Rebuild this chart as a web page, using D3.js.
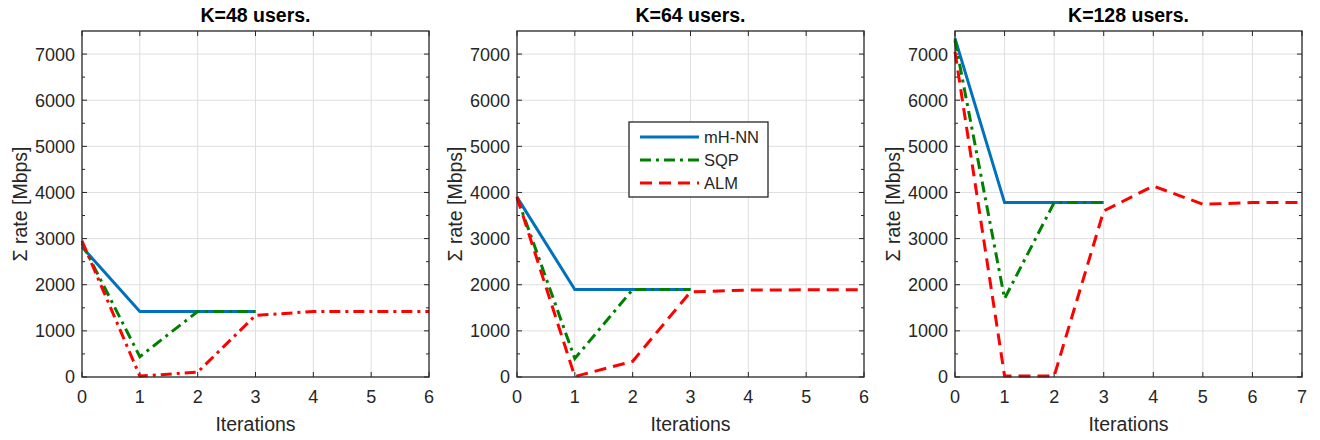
<!DOCTYPE html>
<html>
<head>
<meta charset="utf-8">
<script src="https://cdn.jsdelivr.net/npm/d3@7"></script>
<style>
  html, body { margin: 0; padding: 0; background: #fff; }
  svg { display: block; font-family: "Liberation Sans", Arial, Helvetica, sans-serif; }
</style>
</head>
<body>
<svg id="chart" width="1320" height="440"></svg>
<script>
// Sum-rate convergence per iteration for three user counts
const titles = ["K=48 users.", "K=64 users.", "K=128 users."];
const xMaxes = [6, 6, 7];
const seriesNames = ["mH-NN", "SQP", "ALM"];
const yTicks = [0, 1000, 2000, 3000, 4000, 5000, 6000, 7000];
const yMax = 7500;

const mhnn48 = [2820, 1420, 1420, 1420];
const sqp48 = [2900, 440, 1420, 1420];
const alm48 = [2950, 20, 105, 1335, 1420, 1420, 1420];

const mhnn64 = [3900, 1895, 1895, 1895];
const sqp64 = [3900, 400, 1895, 1895];
const alm64 = [3900, 10, 340, 1845, 1885, 1890, 1890];

const mhnn128 = [7340, 3780, 3780, 3780];
const sqp128 = [7300, 1700, 3780, 3780];
const alm128 = [7050, 20, 20, 3600, 4140, 3745, 3780, 3780];

const panelSeries = [
  [mhnn48, sqp48, alm48],
  [mhnn64, sqp64, alm64],
  [mhnn128, sqp128, alm128]
];

const colors = ["#0072BD", "#008000", "#FF0000"];
const dashDot = "11,5,3,5";
const dashed = "12,7";
// ALM is drawn dash-dot in the first panel, dashed in the others
const dashes = [
  [null, dashDot, dashDot],
  [null, dashDot, dashed],
  [null, dashDot, dashed]
];

const axisColor = "#262626";
const gridColor = "#dfdfdf";
const lefts = [82, 517, 955];
const plotW = 347;
const plotTop = 31, plotBottom = 377;

const svg = d3.select("#chart");

titles.forEach((title, p) => {
  const x0 = lefts[p];
  const x = d3.scaleLinear().domain([0, xMaxes[p]]).range([x0, x0 + plotW]);
  const y = d3.scaleLinear().domain([0, yMax]).range([plotBottom, plotTop]);
  const g = svg.append("g");
  const xTicks = d3.range(0, xMaxes[p] + 1);
  const yMinor = d3.range(500, yMax, 1000);

  // grid
  g.append("g").selectAll("line").data(xTicks.slice(1, -1)).join("line")
    .attr("x1", d => x(d)).attr("x2", d => x(d)).attr("y1", plotTop).attr("y2", plotBottom)
    .attr("stroke", gridColor).attr("stroke-width", 1);
  g.append("g").selectAll("line").data(yTicks.slice(1)).join("line")
    .attr("x1", x0).attr("x2", x0 + plotW).attr("y1", d => y(d)).attr("y2", d => y(d))
    .attr("stroke", gridColor).attr("stroke-width", 1);

  // axes with inward ticks on all four sides
  const tickLen = 5;
  const ax = g.append("g").attr("stroke", axisColor).attr("stroke-width", 1);
  ax.selectAll(".xt").data(xTicks).join("path").attr("class", "xt")
    .attr("d", d => `M${x(d)},${plotBottom}v${-tickLen}M${x(d)},${plotTop}v${tickLen}`);
  ax.selectAll(".yt").data(yTicks).join("path").attr("class", "yt")
    .attr("d", d => `M${x0},${y(d)}h${tickLen}M${x0 + plotW},${y(d)}h${-tickLen}`);
  ax.selectAll(".ym").data(yMinor).join("path").attr("class", "ym")
    .attr("d", d => `M${x0},${y(d)}h3M${x0 + plotW},${y(d)}h-3`);

  // series
  const line = d3.line().x((d, i) => x(i)).y(d => y(d));
  panelSeries[p].forEach((vals, s) => {
    g.append("path").datum(vals)
      .attr("d", line)
      .attr("fill", "none")
      .attr("stroke", colors[s])
      .attr("stroke-width", 3)
      .attr("stroke-dasharray", dashes[p][s])
      .attr("stroke-linejoin", "miter");
  });

  // box
  g.append("rect").attr("x", x0).attr("y", plotTop).attr("width", plotW).attr("height", plotBottom - plotTop)
    .attr("fill", "none").attr("stroke", axisColor).attr("stroke-width", 1.3);

  // tick labels
  g.append("g").selectAll("text").data(xTicks).join("text")
    .attr("x", d => x(d)).attr("y", plotBottom + 26)
    .attr("text-anchor", "middle").attr("font-size", 18).attr("fill", axisColor)
    .text(d => d);
  g.append("g").selectAll("text").data(yTicks).join("text")
    .attr("x", x0 - 7).attr("y", d => y(d)).attr("dy", "0.36em")
    .attr("text-anchor", "end").attr("font-size", 18).attr("fill", axisColor)
    .text(d => d);

  // axis labels and title
  g.append("text").attr("x", x0 + plotW / 2).attr("y", 431)
    .attr("text-anchor", "middle").attr("font-size", 19.5).attr("fill", axisColor)
    .text("Iterations");
  g.append("text")
    .attr("transform", `translate(${x0 - 55},${(plotTop + plotBottom) / 2}) rotate(-90)`)
    .attr("text-anchor", "middle").attr("font-size", 19.5).attr("fill", axisColor)
    .text("\u03A3 rate [Mbps]");
  g.append("text").attr("x", x0 + plotW / 2).attr("y", 22)
    .attr("text-anchor", "middle").attr("font-size", 19.5).attr("font-weight", "bold")
    .attr("fill", "#000").text(title);

  // legend in the middle panel
  if (p === 1) {
    const lx = 629, ly = 122, lw = 139, lh = 75;
    const lg = g.append("g");
    lg.append("rect").attr("x", lx).attr("y", ly).attr("width", lw).attr("height", lh)
      .attr("fill", "#fff").attr("stroke", axisColor).attr("stroke-width", 1.3);
    seriesNames.forEach((name, s) => {
      const ry = ly + 15 + s * 23;
      lg.append("line").attr("x1", lx + 11).attr("x2", lx + 70).attr("y1", ry).attr("y2", ry)
        .attr("stroke", colors[s]).attr("stroke-width", 3)
        .attr("stroke-dasharray", s === 1 ? dashDot : s === 2 ? dashed : null);
      lg.append("text").attr("x", lx + 75).attr("y", ry).attr("dy", "0.36em")
        .attr("font-size", 16.5).attr("fill", axisColor).text(name);
    });
  }
});
</script>
</body>
</html>
